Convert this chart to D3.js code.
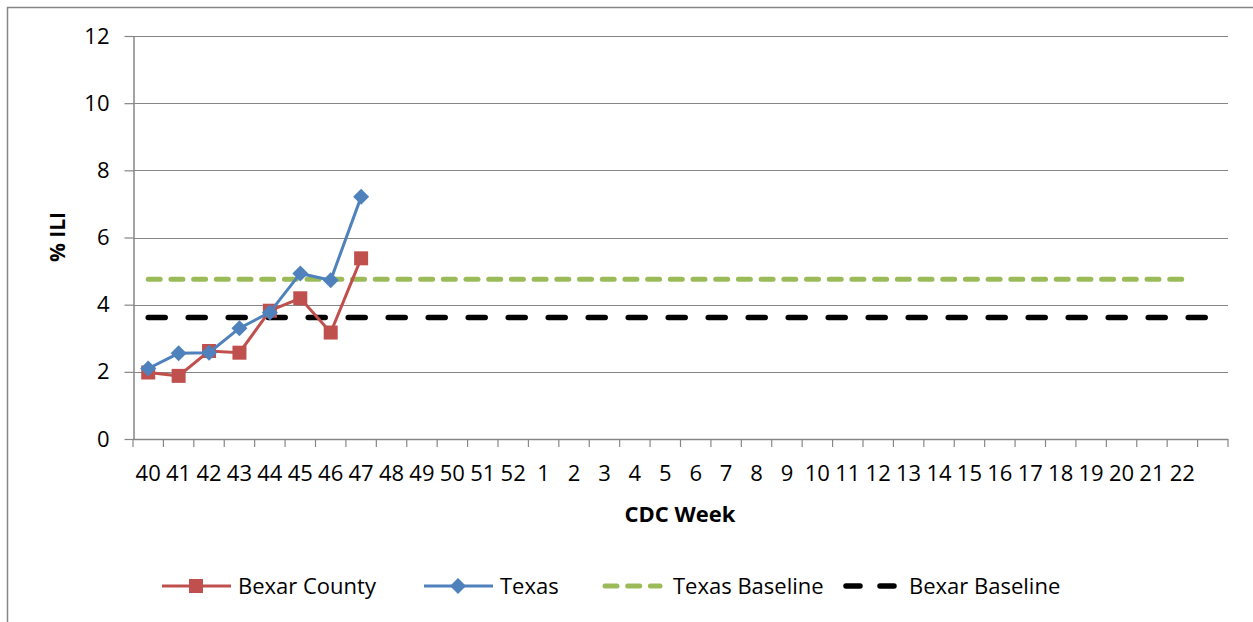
<!DOCTYPE html>
<html>
<head>
<meta charset="utf-8">
<script src="https://cdn.jsdelivr.net/npm/d3@7"></script>
<style>
  body { margin: 0; background: #fff; }
  svg { display: block; }
</style>
</head>
<body>
<script>
// CDC weeks, last slot is an empty category
const weeks = ['40','41','42','43','44','45','46','47','48','49','50','51','52',
  '1','2','3','4','5','6','7','8','9','10','11','12','13','14','15','16','17','18','19','20','21','22',''];

const bexarCounty = [1.98, 1.88, 2.62, 2.57, 3.82, 4.19, 3.17, 5.38];
const texas = [2.10, 2.55, 2.57, 3.30, 3.77, 4.93, 4.73, 7.21];
const texasBaselineValue = 4.76;
const bexarBaselineValue = 3.62;
// texas baseline runs through week 22, bexar baseline through the last slot
const texasBaseline = weeks.slice(0, 35).map(() => texasBaselineValue);
const bexarBaseline = weeks.map(() => bexarBaselineValue);

const yTicks = [0, 2, 4, 6, 8, 10, 12];

const width = 1253;
const height = 622;
const font = "'Open Sans', 'Noto Sans', sans-serif";
const gridColor = '#868686';

const svg = d3.select('body')
  .append('svg')
  .attr('width', width)
  .attr('height', height)
  .style('font-family', font);

// chart frame
svg.append('rect')
  .attr('x', 7.5)
  .attr('y', 7.5)
  .attr('width', 1260)
  .attr('height', 640)
  .attr('fill', 'none')
  .attr('stroke', gridColor)
  .attr('stroke-width', 1.5);

const plot = { left: 133, right: 1228, top: 36, bottom: 439 };

const x = d3.scaleBand()
  .domain(d3.range(weeks.length))
  .range([plot.left, plot.right])
  .paddingInner(0)
  .paddingOuter(0);

const y = d3.scaleLinear()
  .domain([0, 12])
  .range([plot.bottom, plot.top]);

const cx = (i) => x(i) + x.bandwidth() / 2;

// horizontal gridlines
svg.append('g')
  .selectAll('line')
  .data(yTicks.filter((d) => d > 0))
  .join('line')
  .attr('x1', plot.left)
  .attr('x2', plot.right)
  .attr('y1', (d) => Math.round(y(d)) + 0.5)
  .attr('y2', (d) => Math.round(y(d)) + 0.5)
  .attr('stroke', gridColor)
  .attr('stroke-width', 1.2);

// y axis
const yAxis = svg.append('g')
  .attr('transform', `translate(${plot.left + 0.5},0)`)
  .call(d3.axisLeft(y).tickValues(yTicks).tickSize(9).tickPadding(15).tickSizeOuter(0));
yAxis.select('.domain').attr('stroke', gridColor).attr('stroke-width', 1.5);
yAxis.selectAll('.tick line').attr('stroke', gridColor).attr('stroke-width', 1.2);
yAxis.selectAll('.tick text')
  .style('font-family', font)
  .style('font-size', '22px')
  .attr('fill', '#000');

// x axis: ticks between categories, labels at centers
const xg = svg.append('g');
xg.append('line')
  .attr('x1', plot.left)
  .attr('x2', plot.right)
  .attr('y1', plot.bottom + 0.5)
  .attr('y2', plot.bottom + 0.5)
  .attr('stroke', gridColor)
  .attr('stroke-width', 1.5);
xg.selectAll('.xtick')
  .data(d3.range(weeks.length + 1))
  .join('line')
  .attr('class', 'xtick')
  .attr('x1', (i) => (i < weeks.length ? x(i) : plot.right))
  .attr('x2', (i) => (i < weeks.length ? x(i) : plot.right))
  .attr('y1', plot.bottom)
  .attr('y2', plot.bottom + 8)
  .attr('stroke', gridColor)
  .attr('stroke-width', 1.2);
xg.selectAll('.xlabel')
  .data(weeks)
  .join('text')
  .attr('class', 'xlabel')
  .attr('x', (d, i) => cx(i))
  .attr('y', 481)
  .attr('text-anchor', 'middle')
  .style('font-size', '22px')
  .text((d) => d);

// axis titles
svg.append('text')
  .attr('transform', 'translate(65,237) rotate(-90)')
  .attr('text-anchor', 'middle')
  .style('font-size', '21px')
  .style('font-weight', 'bold')
  .text('% ILI');

svg.append('text')
  .attr('x', 680)
  .attr('y', 522)
  .attr('text-anchor', 'middle')
  .style('font-size', '22px')
  .style('font-weight', 'bold')
  .text('CDC Week');

const line = d3.line()
  .x((d, i) => cx(i))
  .y((d) => y(d));

// baselines
svg.append('path')
  .datum(texasBaseline)
  .attr('d', line)
  .attr('fill', 'none')
  .attr('stroke', '#9BBB59')
  .attr('stroke-width', 5)
  .attr('stroke-linecap', 'round')
  .attr('stroke-dasharray', '12,10.7');

svg.append('path')
  .datum(bexarBaseline)
  .attr('d', line)
  .attr('fill', 'none')
  .attr('stroke', '#000')
  .attr('stroke-width', 5.5)
  .attr('stroke-linecap', 'round')
  .attr('stroke-dasharray', '17,23');

// Bexar County series
svg.append('path')
  .datum(bexarCounty)
  .attr('d', line)
  .attr('fill', 'none')
  .attr('stroke', '#C0504D')
  .attr('stroke-width', 3);

svg.append('g')
  .selectAll('rect')
  .data(bexarCounty)
  .join('rect')
  .attr('x', (d, i) => cx(i) - 7)
  .attr('y', (d) => y(d) - 7)
  .attr('width', 14)
  .attr('height', 14)
  .attr('fill', '#C0504D');

// Texas series
svg.append('path')
  .datum(texas)
  .attr('d', line)
  .attr('fill', 'none')
  .attr('stroke', '#4F81BD')
  .attr('stroke-width', 3);

const diamond = 'M0,-8L8,0L0,8L-8,0Z';
svg.append('g')
  .selectAll('path')
  .data(texas)
  .join('path')
  .attr('transform', (d, i) => `translate(${cx(i)},${y(d)})`)
  .attr('d', diamond)
  .attr('fill', '#4F81BD');

// legend
const legendY = 586;
const legend = svg.append('g');

// Bexar County
legend.append('line')
  .attr('x1', 162).attr('x2', 231)
  .attr('y1', legendY).attr('y2', legendY)
  .attr('stroke', '#C0504D').attr('stroke-width', 3);
legend.append('rect')
  .attr('x', 196 - 7).attr('y', legendY - 7)
  .attr('width', 14).attr('height', 14)
  .attr('fill', '#C0504D');
legend.append('text')
  .attr('x', 238).attr('y', legendY + 8)
  .style('font-size', '22px')
  .text('Bexar County');

// Texas
legend.append('line')
  .attr('x1', 424).attr('x2', 493)
  .attr('y1', legendY).attr('y2', legendY)
  .attr('stroke', '#4F81BD').attr('stroke-width', 3);
legend.append('path')
  .attr('transform', `translate(458,${legendY})`)
  .attr('d', diamond)
  .attr('fill', '#4F81BD');
legend.append('text')
  .attr('x', 500).attr('y', legendY + 8)
  .style('font-size', '22px')
  .text('Texas');

// Texas Baseline
legend.append('line')
  .attr('x1', 605).attr('x2', 660)
  .attr('y1', legendY).attr('y2', legendY)
  .attr('stroke', '#9BBB59').attr('stroke-width', 5)
  .attr('stroke-linecap', 'round')
  .attr('stroke-dasharray', '12,10.7');
legend.append('text')
  .attr('x', 673).attr('y', legendY + 8)
  .style('font-size', '22px')
  .text('Texas Baseline');

// Bexar Baseline
legend.append('line')
  .attr('x1', 846).attr('x2', 894)
  .attr('y1', legendY).attr('y2', legendY)
  .attr('stroke', '#000').attr('stroke-width', 5.5)
  .attr('stroke-linecap', 'round')
  .attr('stroke-dasharray', '14,20');
legend.append('text')
  .attr('x', 909).attr('y', legendY + 8)
  .style('font-size', '22px')
  .text('Bexar Baseline');
</script>
</body>
</html>
